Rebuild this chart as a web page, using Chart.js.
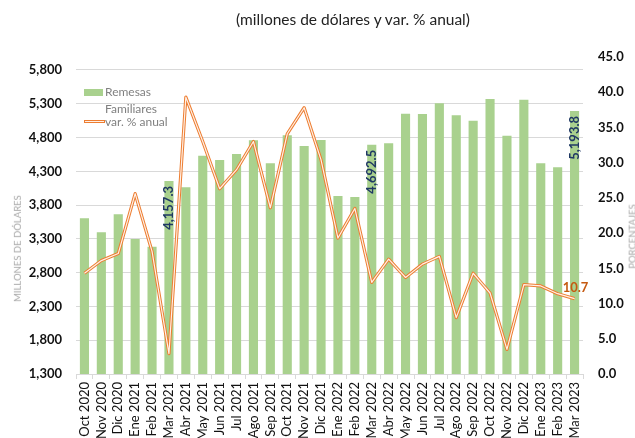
<!DOCTYPE html>
<html>
<head>
<meta charset="utf-8">
<script src="https://cdn.jsdelivr.net/npm/chart.js@4"></script>
<style>
  html, body { margin: 0; padding: 0; background: #fff; }
  #wrap { position: relative; width: 635px; height: 438px; overflow: hidden; font-family: Lato, sans-serif; }
  #title { position: absolute; top: 10px; left: 0; width: 706px; text-align: center; font-size: 15.5px; color: #222; }
  .leg { position: absolute; font-size: 12px; color: #808080; line-height: 14px; }
  .axt { position: absolute; font-size: 9.5px; color: #a6a6a6; white-space: nowrap; transform: rotate(-90deg); transform-origin: center; }
</style>
</head>
<body>
<div id="wrap">
  <canvas id="chart" width="635" height="438"></canvas>
  <div id="title">(millones de dólares y var. % anual)</div>
  <!-- legend, Excel style -->
  <div style="position:absolute;left:84px;top:89px;width:19px;height:7px;background:#a9d18e"></div>
  <div class="leg" style="left:105px;top:85px">Remesas</div>
  <div class="leg" style="left:105px;top:102px">Familiares</div>
  <div style="position:absolute;left:84px;top:120px;width:19px;height:1px;border:1px solid #ed7d31;background:#fff0e6"></div>
  <div class="leg" style="left:105px;top:115px">var. % anual</div>
  <div class="axt" style="left:-36px;top:243px">MILLONES DE DÓLARES</div>
  <div class="axt" style="left:600px;top:231px">PORCENTAJES</div>
</div>
<script>
const labels = ['Oct 2020','Nov 2020','Dic 2020','Ene 2021','Feb 2021','Mar 2021','Abr 2021','May 2021','Jun 2021','Jul 2021',
  'Ago 2021','Sep 2021','Oct 2021','Nov 2021','Dic 2021','Ene 2022','Feb 2022','Mar 2022','Abr 2022','May 2022',
  'Jun 2022','Jul 2022','Ago 2022','Sep 2022','Oct 2022','Nov 2022','Dic 2022','Ene 2023','Feb 2023','Mar 2023']

// remesas familiares, millones de dolares
const remesas = [3605, 3397, 3664, 3298, 3184, 4157.3, 4063, 4531, 4467, 4556,
  4759, 4418, 4833, 4675, 4764, 3935, 3920, 4692.5, 4714, 5153,
  5150, 5306, 5129, 5050, 5370, 4828, 5360, 4418, 4359, 5193.8]

// variacion % anual
const varAnual = [14.3, 16.1, 17.1, 25.6, 17.4, 2.9, 39.3, 33.0, 26.3, 29.0,
  33.0, 23.6, 34.1, 37.8, 30.4, 19.3, 23.5, 13.0, 16.3, 13.7,
  15.6, 16.7, 8.0, 14.3, 11.5, 3.5, 12.7, 12.5, 11.4, 10.7]

const leftTicks = [1300, 1800, 2300, 2800, 3300, 3800, 4300, 4800, 5300, 5800]
const barLabelIdx = [5, 17, 29]   // only the March bars carry a label

const green = '#a9d18e'
const orange = '#ed7d31'

// value labels (bars rotated, last point of the line)
const valueLabels = {
  id: 'valueLabels',
  afterDatasetsDraw(chart) {
    const ctx = chart.ctx
    const bars = chart.getDatasetMeta(0).data
    ctx.save()
    ctx.font = 'bold 13px Lato'
    ctx.fillStyle = '#1f3864'
    ctx.textBaseline = 'middle'
    ctx.textAlign = 'right'
    barLabelIdx.forEach(i => {
      const b = bars[i]
      ctx.save()
      ctx.translate(b.x, b.y + 5)
      ctx.rotate(-Math.PI / 2)
      ctx.fillText(remesas[i].toLocaleString('en-US', { minimumFractionDigits: 1 }), 0, 0)
      ctx.restore()
    })
    const pts = chart.getDatasetMeta(1).data
    const last = pts.length - 1
    ctx.fillStyle = '#c55a11'
    ctx.textAlign = 'center'
    ctx.textBaseline = 'bottom'
    ctx.fillText(varAnual[last].toFixed(1), pts[last].x + 1, pts[last].y - 4)
    ctx.restore()
  }
}

new Chart(document.getElementById('chart'), {
  data: {
    labels: labels,
    datasets: [
      {
        type: 'bar',
        label: 'Remesas Familiares',
        data: remesas,
        backgroundColor: green,
        barPercentage: 0.54,
        categoryPercentage: 1,
        yAxisID: 'y',
        order: 3
      },
      {
        type: 'line',
        label: 'var. % anual',
        data: varAnual,
        borderColor: orange,
        borderWidth: 3.2,
        borderJoinStyle: 'round',
        pointRadius: 0,
        tension: 0,
        yAxisID: 'y1',
        order: 2
      },
      {
        // inner light stroke to get the double line look
        type: 'line',
        label: '_inner',
        data: varAnual,
        borderColor: '#fff0e6',
        borderWidth: 1.2,
        borderJoinStyle: 'round',
        pointRadius: 0,
        tension: 0,
        yAxisID: 'y1',
        order: 1
      }
    ]
  },
  options: {
    responsive: false,
    animation: false,
    layout: { padding: { top: 57, left: 0, right: 0, bottom: 0 } },
    plugins: {
      legend: { display: false },
      tooltip: { enabled: false }
    },
    scales: {
      x: {
        grid: { drawOnChartArea: false, color: '#d9d9d9', tickLength: 5 },
        border: { color: '#d9d9d9' },
        ticks: {
          autoSkip: false,
          minRotation: 90,
          maxRotation: 90,
          padding: 3,
          color: '#111',
          font: { family: 'Lato', size: 13 }
        },
        afterFit(scale) { scale.height = 64 }
      },
      y: {
        position: 'left',
        min: 1300,
        max: 5992.4,
        afterBuildTicks(scale) { scale.ticks = leftTicks.map(v => ({ value: v })) },
        grid: { color: '#d9d9d9', drawTicks: false },
        border: { display: false },
        ticks: {
          padding: 14,
          color: '#111',
          font: { family: 'Lato', size: 13, weight: 'bold' },
          callback: v => v.toLocaleString('en-US')
        },
        afterFit(scale) { scale.width = 76 }
      },
      y1: {
        position: 'right',
        min: 0,
        max: 45,
        grid: { display: false, drawTicks: false },
        border: { display: false },
        ticks: {
          stepSize: 5,
          padding: 15,
          color: '#111',
          font: { family: 'Lato', size: 13, weight: 'bold' },
          callback: v => v.toFixed(1)
        },
        afterFit(scale) { scale.width = 52 }
      }
    }
  },
  plugins: [valueLabels]
})
</script>
</body>
</html>
